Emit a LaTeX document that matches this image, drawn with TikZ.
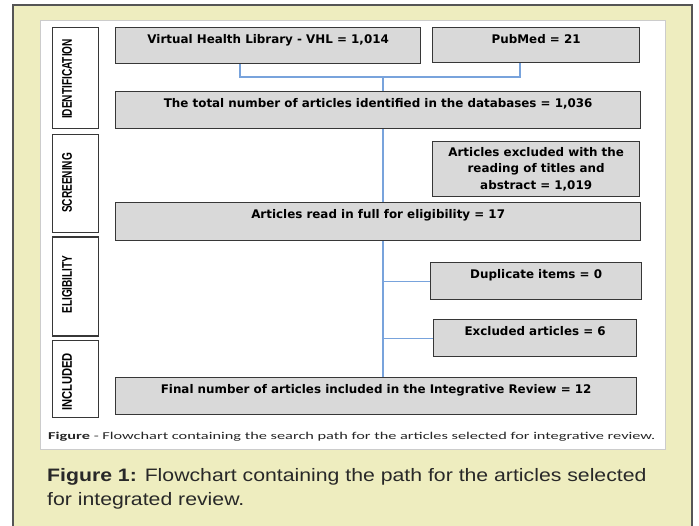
\documentclass[tikz,border=0pt]{standalone}
\usepackage{fontspec}
\usepackage{graphicx}
\setmainfont{DejaVu Sans}
\newfontfamily\capfont{Liberation Sans}
\newfontfamily\smallcap{Carlito}
\usetikzlibrary{calc}
\definecolor{panelbg}{RGB}{238,237,191}
\definecolor{panelborder}{RGB}{85,85,85}
\definecolor{boxfill}{RGB}{217,217,217}
\definecolor{boxline}{RGB}{55,55,55}
\definecolor{linkblue}{RGB}{120,163,220}
\definecolor{captext}{RGB}{40,40,40}
\tikzset{
  boxtxt/.style={font=\bfseries\fontsize{11.9}{16.5}\selectfont},
  flowbox/.style={draw=boxline, line width=1.3pt, fill=boxfill, anchor=north west,
    inner xsep=0pt, inner ysep=0pt, text height=16pt, boxtxt},
  lanebox/.style={draw=boxline, line width=1.1pt, fill=white, anchor=north west,
    minimum width=46pt, inner sep=0pt},
  lanetxt/.style={font=\capfont\bfseries\fontsize{14}{14}\selectfont, rotate=90, inner sep=0pt},
  link/.style={draw=linkblue, line width=1.1pt}
}
\begin{document}
\begin{tikzpicture}[x=1pt,y=-1pt]
\useasboundingbox (0,0) rectangle (699,526);
% panel
\fill[white] (0,0) rectangle (699,526);
\draw[panelborder, line width=1.4pt, fill=panelbg] (13,5) rectangle (692,540);
\draw[black!20, line width=0.6pt, fill=white] (40,20) rectangle (665,449);

% lanes
\node[lanebox, minimum height=101pt] (lid) at (52,27) {};
\node[lanebox, minimum height=98pt] (lsc) at (52,134) {};
\node[lanebox, minimum height=99pt] (lel) at (52,236.5) {};
\node[lanebox, minimum height=77pt] (lin) at (52,340) {};
\node[lanetxt] (tid) at (67,79) {\scalebox{0.72}[1]{IDENTIFICATION}};
\node[lanetxt] (tsc) at (67,183) {\scalebox{0.72}[1]{SCREENING}};
\node[lanetxt] (tel) at (67,284.5) {\scalebox{0.72}[1]{ELIGIBILITY}};
\node[lanetxt] (tin) at (67,382) {\scalebox{0.8}[1]{INCLUDED}};

% boxes
\node[flowbox, minimum width=305pt, text depth=20pt] (vhl) at (115,27) {Virtual Health Library - VHL = 1,014};
\node[flowbox, minimum width=207pt, text depth=19pt] (pub) at (432,27) {PubMed = 21};
\node[flowbox, minimum width=525pt, text depth=21pt] (tot) at (115,91) {The total number of articles identified in the databases = 1,036};
\node[draw=boxline, line width=1.3pt, fill=boxfill, anchor=north west, boxtxt,
      minimum width=207pt, minimum height=55pt, inner sep=0pt, align=center] (exc) at (432,141)
      {Articles excluded with the\\reading of titles and\\abstract = 1,019};
\node[flowbox, minimum width=525pt, text depth=22pt] (full) at (115,202) {Articles read in full for eligibility = 17};
\node[flowbox, minimum width=211pt, text depth=21pt] (dup) at (430,262) {Duplicate items = 0};
\node[flowbox, minimum width=203pt, text depth=21pt] (exa) at (433,319) {Excluded articles = 6};
\node[flowbox, minimum width=521pt, text depth=21pt] (fin) at (115,377) {Final number of articles included in the Integrative Review = 12};

% connectors
\coordinate (jv) at (240,77);
\coordinate (jp) at (520,77);
\coordinate (jm) at (383,77);
\draw[link] (vhl.south -| jv) -- (jv) -- (jp) -- (pub.south -| jp);
\draw[link] (jm) -- (tot.north -| jm);
\draw[link] (tot.south -| jm) -- (full.north -| jm);
\draw[link] (full.south -| jm) -- (fin.north -| jm);
\draw[link] ($(exc.north west)!0.33!(exc.south west)$) -- ($(exc.north west)!0.33!(exc.south west)$ -| jm);
\draw[link] (dup.west) -- (dup.west -| jm);
\draw[link] (exa.west) -- (exa.west -| jm);

% captions
\node[anchor=west, inner sep=0pt, text=black!85] (smallcaption) at (48,437)
  {\resizebox{607pt}{\height}{\smallcap\fontsize{10.5}{12}\selectfont\textbf{Figure} - Flowchart containing the search path for the articles selected for integrative review.}};
\node[anchor=base west, inner sep=0pt, align=left, text=captext,
      font=\capfont\fontsize{18}{24}\selectfont] (bigcaption) at (47,505)
  {\scalebox{1.18}[1]{\textbf{Figure 1:} Flowchart containing the path for the articles selected}\\\scalebox{1.18}[1]{for integrated review.}};
\end{tikzpicture}
\end{document}
